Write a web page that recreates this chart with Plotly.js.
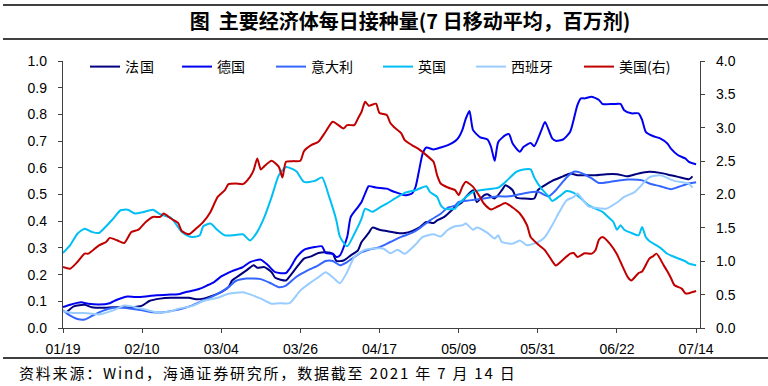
<!DOCTYPE html>
<html>
<head>
<meta charset="utf-8">
<script src="https://cdn.plot.ly/plotly-3.0.1.min.js"></script>
<style>
html,body{margin:0;padding:0;background:#fff;}
#chart{width:768px;height:386px;}
.annotation-text{letter-spacing:1.8px;}
.legendtext{letter-spacing:1px;}
</style>
</head>
<body>
<div id="chart"></div>
<script>
// ---- Data ----
const seriesNames = ['法国', '德国', '意大利', '英国', '西班牙', '美国(右)'];

const frDates = ['2021-01-20','2021-01-22','2021-01-25','2021-01-27','2021-01-30','2021-02-02','2021-02-05','2021-02-07','2021-02-10','2021-02-12','2021-02-15','2021-02-18','2021-02-20','2021-02-23','2021-02-25','2021-02-27','2021-03-01','2021-03-04','2021-03-06','2021-03-07','2021-03-09','2021-03-11','2021-03-13','2021-03-14','2021-03-16','2021-03-18','2021-03-19','2021-03-22','2021-03-23','2021-03-25','2021-03-27','2021-03-29','2021-03-31','2021-04-02','2021-04-04','2021-04-05','2021-04-07','2021-04-09','2021-04-11','2021-04-12','2021-04-14','2021-04-15','2021-04-17','2021-04-19','2021-04-22','2021-04-24','2021-04-26','2021-04-28','2021-04-30','2021-05-02','2021-05-03','2021-05-05','2021-05-07','2021-05-08','2021-05-10','2021-05-11','2021-05-13','2021-05-14','2021-05-16','2021-05-17','2021-05-19','2021-05-21','2021-05-22','2021-05-24','2021-05-25','2021-05-27','2021-05-30','2021-05-31','2021-06-02','2021-06-04','2021-06-07','2021-06-09','2021-06-11','2021-06-13','2021-06-16','2021-06-19','2021-06-22','2021-06-25','2021-06-28','2021-07-01','2021-07-04','2021-07-07','2021-07-09','2021-07-12','2021-07-13'];
const frVals = [0.059,0.081,0.087,0.078,0.076,0.078,0.078,0.078,0.084,0.101,0.110,0.113,0.113,0.113,0.108,0.110,0.118,0.134,0.153,0.178,0.197,0.216,0.235,0.226,0.228,0.209,0.188,0.178,0.193,0.228,0.260,0.268,0.281,0.284,0.278,0.251,0.253,0.272,0.291,0.322,0.356,0.376,0.368,0.363,0.356,0.356,0.363,0.376,0.397,0.393,0.403,0.416,0.440,0.453,0.472,0.491,0.516,0.472,0.497,0.501,0.485,0.516,0.535,0.516,0.489,0.485,0.485,0.516,0.535,0.551,0.568,0.579,0.572,0.572,0.572,0.576,0.576,0.568,0.579,0.585,0.581,0.572,0.566,0.557,0.568];

const deDates = ['2021-01-19','2021-01-21','2021-01-24','2021-01-26','2021-01-29','2021-02-01','2021-02-03','2021-02-06','2021-02-08','2021-02-11','2021-02-14','2021-02-17','2021-02-20','2021-02-22','2021-02-25','2021-02-26','2021-02-28','2021-03-02','2021-03-04','2021-03-07','2021-03-10','2021-03-12','2021-03-15','2021-03-17','2021-03-19','2021-03-22','2021-03-23','2021-03-25','2021-03-27','2021-03-30','2021-04-01','2021-04-02','2021-04-04','2021-04-05','2021-04-06','2021-04-08','2021-04-09','2021-04-11','2021-04-12','2021-04-13','2021-04-14','2021-04-16','2021-04-19','2021-04-20','2021-04-22','2021-04-24','2021-04-26','2021-04-27','2021-04-28','2021-04-29','2021-04-30','2021-05-02','2021-05-04','2021-05-06','2021-05-08','2021-05-09','2021-05-10','2021-05-11','2021-05-12','2021-05-13','2021-05-15','2021-05-17','2021-05-18','2021-05-19','2021-05-20','2021-05-22','2021-05-23','2021-05-24','2021-05-26','2021-05-27','2021-05-29','2021-05-30','2021-06-01','2021-06-02','2021-06-04','2021-06-05','2021-06-07','2021-06-09','2021-06-11','2021-06-12','2021-06-13','2021-06-15','2021-06-17','2021-06-18','2021-06-21','2021-06-23','2021-06-24','2021-06-26','2021-06-28','2021-06-29','2021-06-30','2021-07-02','2021-07-04','2021-07-06','2021-07-07','2021-07-09','2021-07-11','2021-07-12','2021-07-14'];
const deVals = [0.078,0.087,0.096,0.091,0.088,0.093,0.106,0.118,0.116,0.118,0.123,0.125,0.126,0.134,0.143,0.147,0.159,0.172,0.193,0.213,0.228,0.247,0.256,0.235,0.209,0.206,0.222,0.266,0.293,0.303,0.306,0.281,0.278,0.266,0.272,0.341,0.416,0.453,0.472,0.504,0.531,0.526,0.522,0.516,0.506,0.497,0.504,0.528,0.591,0.654,0.676,0.669,0.676,0.685,0.700,0.714,0.741,0.785,0.813,0.741,0.714,0.706,0.678,0.626,0.697,0.722,0.726,0.691,0.660,0.678,0.693,0.681,0.741,0.772,0.710,0.701,0.706,0.735,0.835,0.860,0.860,0.866,0.854,0.839,0.839,0.839,0.816,0.804,0.804,0.779,0.735,0.719,0.710,0.691,0.672,0.647,0.635,0.622,0.613];

const itDates = ['2021-01-19','2021-01-21','2021-01-23','2021-01-25','2021-01-27','2021-01-30','2021-02-02','2021-02-05','2021-02-07','2021-02-10','2021-02-13','2021-02-16','2021-02-19','2021-02-21','2021-02-24','2021-02-27','2021-03-03','2021-03-06','2021-03-08','2021-03-11','2021-03-15','2021-03-18','2021-03-20','2021-03-22','2021-03-25','2021-03-28','2021-03-31','2021-04-02','2021-04-04','2021-04-06','2021-04-08','2021-04-10','2021-04-12','2021-04-14','2021-04-17','2021-04-20','2021-04-23','2021-04-26','2021-04-28','2021-05-01','2021-05-04','2021-05-06','2021-05-08','2021-05-09','2021-05-12','2021-05-16','2021-05-20','2021-05-23','2021-05-27','2021-05-31','2021-06-03','2021-06-05','2021-06-08','2021-06-10','2021-06-11','2021-06-13','2021-06-15','2021-06-17','2021-06-20','2021-06-23','2021-06-25','2021-06-29','2021-07-01','2021-07-04','2021-07-07','2021-07-09','2021-07-12','2021-07-14'];
const itVals = [0.066,0.046,0.034,0.032,0.045,0.064,0.076,0.076,0.072,0.066,0.059,0.059,0.066,0.072,0.085,0.103,0.128,0.153,0.176,0.185,0.183,0.166,0.153,0.159,0.193,0.216,0.235,0.251,0.251,0.235,0.247,0.266,0.284,0.293,0.303,0.322,0.341,0.356,0.372,0.403,0.428,0.451,0.458,0.472,0.478,0.485,0.493,0.493,0.504,0.510,0.493,0.516,0.564,0.585,0.585,0.575,0.560,0.543,0.547,0.553,0.556,0.553,0.541,0.531,0.520,0.528,0.541,0.546];

const ukDates = ['2021-01-19','2021-01-21','2021-01-23','2021-01-25','2021-01-27','2021-01-29','2021-01-31','2021-02-02','2021-02-04','2021-02-06','2021-02-08','2021-02-10','2021-02-13','2021-02-15','2021-02-18','2021-02-19','2021-02-21','2021-02-23','2021-02-24','2021-02-26','2021-02-27','2021-03-01','2021-03-03','2021-03-05','2021-03-07','2021-03-10','2021-03-12','2021-03-14','2021-03-16','2021-03-18','2021-03-20','2021-03-22','2021-03-24','2021-03-25','2021-03-27','2021-03-30','2021-04-01','2021-04-03','2021-04-05','2021-04-06','2021-04-08','2021-04-10','2021-04-12','2021-04-13','2021-04-15','2021-04-17','2021-04-19','2021-04-22','2021-04-24','2021-04-27','2021-04-30','2021-05-01','2021-05-03','2021-05-04','2021-05-05','2021-05-08','2021-05-09','2021-05-13','2021-05-16','2021-05-20','2021-05-22','2021-05-25','2021-05-27','2021-05-29','2021-05-30','2021-06-01','2021-06-03','2021-06-04','2021-06-06','2021-06-08','2021-06-10','2021-06-12','2021-06-14','2021-06-16','2021-06-18','2021-06-20','2021-06-21','2021-06-22','2021-06-23','2021-06-24','2021-06-26','2021-06-28','2021-06-29','2021-06-30','2021-07-01','2021-07-04','2021-07-06','2021-07-08','2021-07-11','2021-07-12','2021-07-14'];
const ukVals = [0.281,0.310,0.353,0.372,0.360,0.356,0.381,0.410,0.441,0.443,0.429,0.433,0.443,0.426,0.413,0.397,0.360,0.343,0.341,0.347,0.381,0.391,0.366,0.347,0.347,0.351,0.328,0.360,0.416,0.491,0.572,0.603,0.594,0.585,0.547,0.551,0.564,0.491,0.403,0.341,0.306,0.353,0.410,0.447,0.435,0.451,0.466,0.491,0.506,0.516,0.531,0.510,0.491,0.460,0.447,0.447,0.466,0.510,0.518,0.526,0.547,0.585,0.594,0.594,0.564,0.522,0.493,0.476,0.493,0.513,0.506,0.485,0.460,0.447,0.435,0.410,0.397,0.368,0.385,0.368,0.356,0.347,0.378,0.341,0.326,0.301,0.278,0.266,0.250,0.241,0.235];

const esDates = ['2021-01-19','2021-01-22','2021-01-25','2021-01-29','2021-02-02','2021-02-05','2021-02-07','2021-02-10','2021-02-14','2021-02-18','2021-02-20','2021-02-24','2021-02-27','2021-03-03','2021-03-06','2021-03-10','2021-03-12','2021-03-15','2021-03-18','2021-03-20','2021-03-23','2021-03-26','2021-03-29','2021-03-31','2021-04-02','2021-04-04','2021-04-06','2021-04-08','2021-04-10','2021-04-13','2021-04-18','2021-04-20','2021-04-22','2021-04-24','2021-04-27','2021-04-29','2021-05-02','2021-05-04','2021-05-06','2021-05-08','2021-05-10','2021-05-11','2021-05-13','2021-05-14','2021-05-17','2021-05-19','2021-05-20','2021-05-21','2021-05-24','2021-05-26','2021-05-28','2021-05-31','2021-06-02','2021-06-04','2021-06-06','2021-06-08','2021-06-10','2021-06-11','2021-06-14','2021-06-16','2021-06-19','2021-06-22','2021-06-24','2021-06-27','2021-07-01','2021-07-04','2021-07-08','2021-07-12','2021-07-13'];
const esVals = [0.063,0.056,0.056,0.051,0.066,0.084,0.081,0.072,0.059,0.063,0.072,0.083,0.101,0.113,0.128,0.134,0.126,0.110,0.091,0.093,0.093,0.141,0.172,0.190,0.209,0.190,0.168,0.210,0.266,0.293,0.298,0.280,0.293,0.278,0.313,0.341,0.351,0.343,0.368,0.381,0.385,0.391,0.368,0.376,0.356,0.335,0.347,0.322,0.316,0.328,0.310,0.322,0.341,0.385,0.435,0.478,0.491,0.504,0.456,0.450,0.447,0.470,0.491,0.510,0.564,0.572,0.551,0.541,0.526];

const usDates = ['2021-01-19','2021-01-21','2021-01-23','2021-01-25','2021-01-26','2021-01-29','2021-01-31','2021-02-01','2021-02-03','2021-02-05','2021-02-07','2021-02-09','2021-02-11','2021-02-13','2021-02-15','2021-02-16','2021-02-18','2021-02-20','2021-02-21','2021-02-23','2021-02-25','2021-02-27','2021-03-01','2021-03-03','2021-03-05','2021-03-06','2021-03-08','2021-03-10','2021-03-12','2021-03-13','2021-03-14','2021-03-15','2021-03-16','2021-03-18','2021-03-20','2021-03-21','2021-03-22','2021-03-24','2021-03-26','2021-03-27','2021-03-29','2021-03-31','2021-04-02','2021-04-04','2021-04-07','2021-04-08','2021-04-10','2021-04-11','2021-04-12','2021-04-13','2021-04-14','2021-04-16','2021-04-17','2021-04-19','2021-04-20','2021-04-21','2021-04-23','2021-04-24','2021-04-26','2021-04-28','2021-04-30','2021-05-02','2021-05-03','2021-05-04','2021-05-06','2021-05-08','2021-05-09','2021-05-10','2021-05-11','2021-05-13','2021-05-15','2021-05-16','2021-05-18','2021-05-20','2021-05-22','2021-05-24','2021-05-26','2021-05-28','2021-05-29','2021-05-31','2021-06-02','2021-06-04','2021-06-05','2021-06-07','2021-06-09','2021-06-10','2021-06-11','2021-06-13','2021-06-15','2021-06-16','2021-06-17','2021-06-18','2021-06-20','2021-06-22','2021-06-23','2021-06-25','2021-06-26','2021-06-28','2021-06-29','2021-07-01','2021-07-02','2021-07-03','2021-07-05','2021-07-06','2021-07-07','2021-07-08','2021-07-10','2021-07-11','2021-07-12','2021-07-13','2021-07-14'];
const usVals = [0.913,0.889,0.988,1.114,1.114,1.239,1.288,1.350,1.314,1.273,1.438,1.474,1.589,1.664,1.664,1.715,1.640,1.574,1.453,1.404,1.489,1.589,1.739,1.964,2.065,2.155,2.165,2.155,2.264,2.365,2.540,2.375,2.425,2.505,2.414,2.255,2.490,2.500,2.505,2.650,2.740,2.790,2.940,3.090,2.990,3.040,3.040,3.140,3.240,3.390,3.330,3.360,3.220,3.190,3.070,3.010,2.920,2.815,2.740,2.676,2.590,2.490,2.290,2.165,2.105,2.065,1.990,2.114,2.190,2.114,1.955,1.865,1.775,1.824,1.874,1.805,1.715,1.539,1.363,1.254,1.164,1.003,0.938,1.024,1.114,1.123,1.063,1.120,1.114,1.164,1.324,1.363,1.264,1.104,0.988,0.763,0.713,0.823,0.848,1.039,1.074,1.114,0.938,0.850,0.750,0.640,0.590,0.520,0.520,0.540,0.555];

const seriesColors = ['#00007F', '#0000F0', '#3366FF', '#00BFF5', '#99CCFF', '#C00000'];

const leftTickVals = [0,0.1,0.2,0.3,0.4,0.5,0.6,0.7,0.8,0.9,1.0];
const rightTickVals = [0,0.5,1.0,1.5,2.0,2.5,3.0,3.5,4.0];

// ---- Layout geometry ----
const L = 63, R = 68, T = 61, B = 58, W = 768, H = 386;
const pw = W - L - R, ph = H - T - B;
const px = v => (v - L) / pw;
const py = v => (H - B - v) / ph;

// one legend per series so each entry sits where it does in the reference
const legendIds = ['legend', 'legend2', 'legend3', 'legend4', 'legend5', 'legend6'];
const legendLeft = [85, 177, 271, 378, 471, 579];

const xs = [frDates, deDates, itDates, ukDates, esDates, usDates];
const ys = [frVals, deVals, itVals, ukVals, esVals, usVals];
const traces = seriesNames.map((name, i) => ({
  type: 'scatter', mode: 'lines', name: name,
  x: xs[i], y: ys[i],
  yaxis: i === 5 ? 'y2' : 'y',
  legend: legendIds[i],
  line: {color: seriesColors[i], width: 2, shape: 'spline', smoothing: 0.6}
}));

const axisFont = {family: 'Liberation Sans, Arial, sans-serif', size: 14, color: '#000'};
const legendFont = {family: 'Noto Sans CJK SC, sans-serif', size: 14, color: '#000'};

const layout = {
  width: W, height: H,
  margin: {l: L, r: R, t: T, b: B, pad: 0},
  paper_bgcolor: '#fff', plot_bgcolor: '#fff',
  showlegend: true,
  title: {
    text: '<b>图  主要经济体每日接种量(7 日移动平均，百万剂)</b>',
    font: {family: 'Noto Sans CJK SC, sans-serif', size: 20, color: '#000'},
    x: 410 / W, xref: 'container', xanchor: 'center',
    y: 1 - 22 / H, yref: 'container', yanchor: 'middle'
  },
  xaxis: {
    type: 'date',
    range: ['2021-01-19', '2021-07-15 02:00'],
    tick0: '2021-01-19', dtick: 22 * 86400000,
    tickformat: '%m/%d',
    ticks: 'outside', ticklen: 4, tickcolor: '#404040',
    showline: true, linecolor: '#404040', linewidth: 1.2,
    showgrid: false, zeroline: false,
    tickfont: axisFont, ticklabelstandoff: 4
  },
  yaxis: {
    range: [0, 1], tickvals: leftTickVals, tickformat: '.1f',
    ticks: 'outside', ticklen: 4, tickcolor: '#404040',
    showline: true, linecolor: '#404040', linewidth: 1.2,
    showgrid: false, zeroline: false,
    tickfont: axisFont, ticklabelstandoff: 8
  },
  yaxis2: {
    range: [0, 4], tickvals: rightTickVals, tickformat: '.1f',
    overlaying: 'y', side: 'right',
    ticks: 'outside', ticklen: 4, tickcolor: '#404040',
    showline: true, linecolor: '#404040', linewidth: 1.2,
    showgrid: false, zeroline: false,
    tickfont: axisFont, ticklabelstandoff: 8
  },
  shapes: [
    {type: 'line', xref: 'paper', yref: 'paper', x0: px(3), x1: px(768), y0: py(5), y1: py(5), line: {color: '#000', width: 1.5}},
    {type: 'line', xref: 'paper', yref: 'paper', x0: px(3), x1: px(768), y0: py(39), y1: py(39), line: {color: '#000', width: 1.5}},
    {type: 'line', xref: 'paper', yref: 'paper', x0: px(3), x1: px(768), y0: py(358), y1: py(358), line: {color: '#000', width: 1.5}}
  ],
  annotations: [
    {xref: 'paper', yref: 'paper', x: px(17), y: py(372), xanchor: 'left', yanchor: 'middle', showarrow: false,
     text: '资料来源：Wind，海通证券研究所，数据截至 2021 年 7 月 14 日',
     font: {family: 'Noto Sans CJK SC, sans-serif', size: 15, color: '#000'}}
  ]
};
legendIds.forEach((id, i) => {
  layout[id] = {
    orientation: 'h', x: px(legendLeft[i]), xanchor: 'left', y: py(51), yanchor: 'top',
    bgcolor: 'rgba(0,0,0,0)', borderwidth: 0, font: legendFont
  };
});

Plotly.newPlot('chart', traces, layout, {displayModeBar: false, staticPlot: true});
</script>
</body>
</html>
